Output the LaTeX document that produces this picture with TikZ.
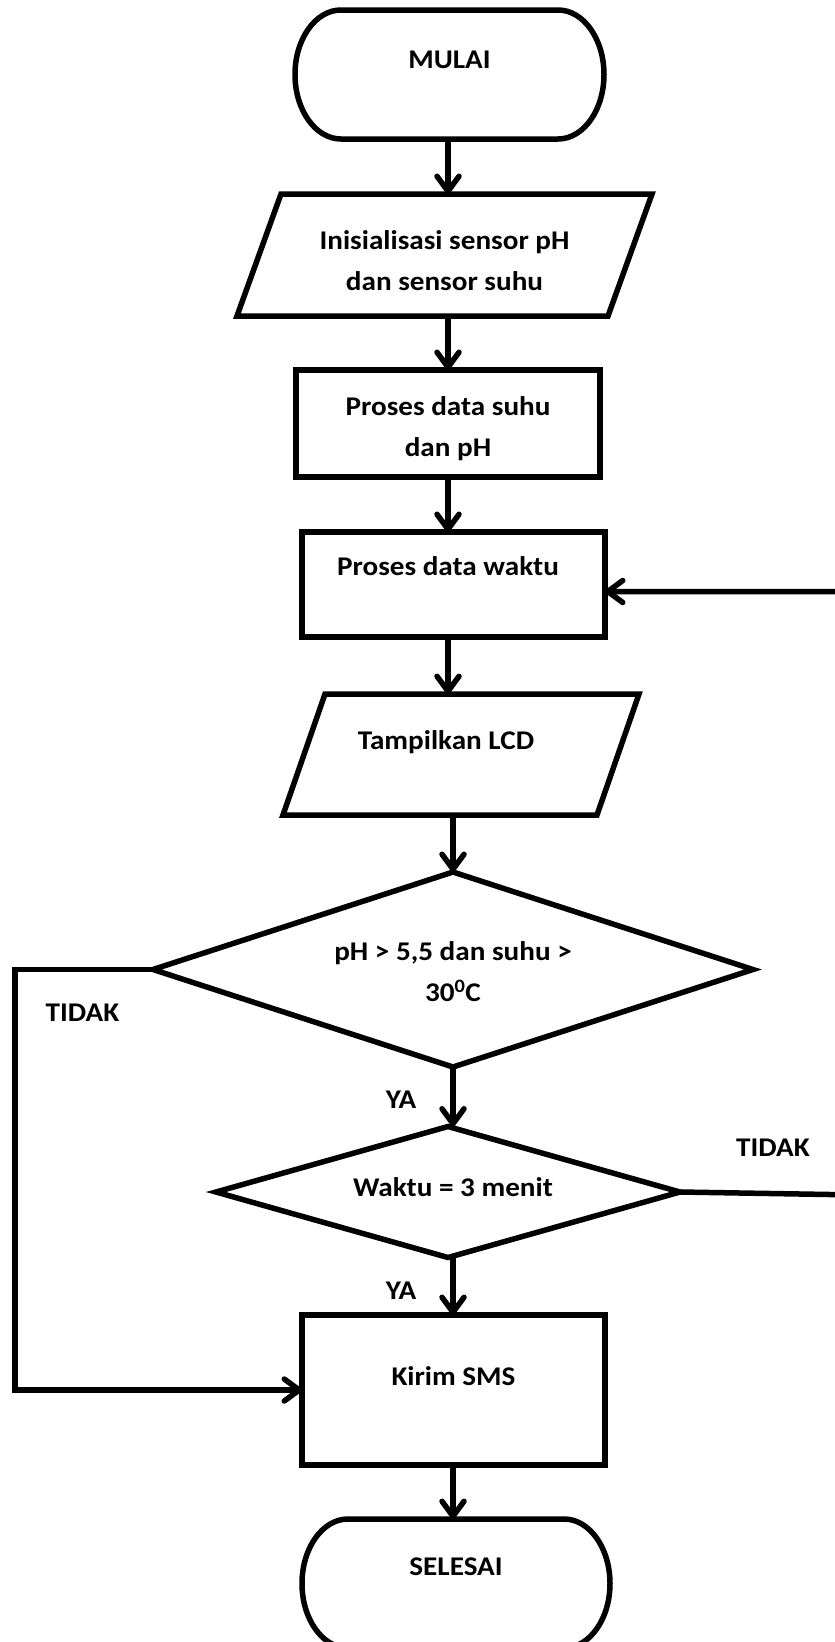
\documentclass[tikz,border=0pt]{standalone}
\usepackage{fontspec}
\newfontfamily\calib[FakeStretch=1.08]{Carlito}
\usetikzlibrary{arrows.meta,shapes.geometric}
\tikzset{
  ln/.style={line width=5.5pt, line join=miter},
  hold/.style={draw=none, inner sep=0pt, outer sep=0pt},
  box/.style={draw, line width=5.5pt, inner sep=0pt, outer sep=0pt},
  dia/.style={diamond, draw, line width=5.5pt, inner sep=0pt, outer sep=0pt},
  txt/.style={inner sep=0pt, align=center, font=\calib\bfseries\fontsize{27}{41}\selectfont},
  arr/.style={line width=5.5pt, -{Straight Barb[length=15pt,width=22pt,line cap=round,round]}}
}
\begin{document}
\begin{tikzpicture}[x=1pt,y=-1pt]
\useasboundingbox (0,0) rectangle (835,1642);
\clip (0,0) rectangle (835,1642);
% MULAI terminal
\node[hold, minimum width=309, minimum height=129] (start) at (449.5,74.5) {};
\draw[ln] ([xshift=46pt]start.north west) -- ([xshift=-46pt]start.north east)
  arc[start angle=90, end angle=-90, x radius=46pt, y radius=64.5pt]
  -- ([xshift=46pt]start.south west)
  arc[start angle=270, end angle=90, x radius=46pt, y radius=64.5pt] -- cycle;
\node[txt] (tstart) at (449.5,60) {MULAI};
% parallelogram 1
\node[hold, minimum width=415, minimum height=122] (p1) at (444.5,255) {};
\draw[ln] ([xshift=44pt]p1.north west) -- (p1.north east) -- ([xshift=-44pt]p1.south east) -- (p1.south west) -- cycle;
\node[txt] (tp1) at (444.5,261) {Inisialisasi sensor pH\\dan sensor suhu};
% rect 2
\node[box, minimum width=304, minimum height=107] (r2) at (448,423.5) {};
\node[txt] (tr2) at (448,429) {Proses data suhu\\dan pH};
% rect 3
\node[box, minimum width=303, minimum height=105] (r3) at (453.5,584.5) {};
\node[txt] (tr3) at (448,566) {Proses data waktu};
% LCD parallelogram
\node[hold, minimum width=356, minimum height=121] (p2) at (461,754.5) {};
\draw[ln] ([xshift=42pt]p2.north west) -- (p2.north east) -- ([xshift=-42pt]p2.south east) -- (p2.south west) -- cycle;
\node[txt] (tp2) at (446,742) {Tampilkan LCD};
% diamond 1
\node[dia, minimum width=600, minimum height=195] (d1) at (453,969.5) {};
\node[txt] (td1) at (453,972) {pH > 5,5 dan suhu >\\30\textsuperscript{0}C};
% diamond 2
\node[dia, minimum width=464, minimum height=131] (d2) at (448,1192) {};
\node[txt] (td2) at (453,1187) {Waktu = 3 menit};
% Kirim SMS
\node[box, minimum width=303, minimum height=150] (sms) at (453.5,1390) {};
\node[txt] (tsms) at (453.5,1376) {Kirim SMS};
% SELESAI terminal
\node[hold, minimum width=308, minimum height=129] (stop) at (456,1583.5) {};
\draw[ln] ([xshift=46pt]stop.north west) -- ([xshift=-46pt]stop.north east)
  arc[start angle=90, end angle=-90, x radius=46pt, y radius=64.5pt]
  -- ([xshift=46pt]stop.south west)
  arc[start angle=270, end angle=90, x radius=46pt, y radius=64.5pt] -- cycle;
\node[txt] (tstop) at (456,1567) {SELESAI};
% labels
\node[txt] (lt1) at (82.5,1013) {TIDAK};
\node[txt] (lt2) at (773,1148) {TIDAK};
\node[txt] (ly1) at (401,1100) {YA};
\node[txt] (ly2) at (401,1291) {YA};
% connectors
\draw[arr] (start.south -| 448,0) -- (448,0 |- p1.north);
\draw[arr] (448,0 |- p1.south) -- (448,0 |- r2.north);
\draw[arr] (448,0 |- r2.south) -- (448,0 |- r3.north);
\draw[arr] (448,0 |- r3.south) -- (448,0 |- p2.north);
\draw[arr] (453,0 |- p2.south) -- (d1.north);
\draw[arr] (d1.south) -- (d2.north -| d1.south);
\draw[arr] (453,0 |- d2.south) -- (453,0 |- sms.north);
\draw[arr] (453,0 |- sms.south) -- (453,0 |- stop.north);
\coordinate (lc) at (15,969.5);
\draw[arr] (d1.west) -- (lc) |- (sms.west);
\coordinate (rc) at (860,1195);
\draw[arr] (d2.east) -- (rc) |- ([yshift=-7pt]r3.east);
\end{tikzpicture}
\end{document}
